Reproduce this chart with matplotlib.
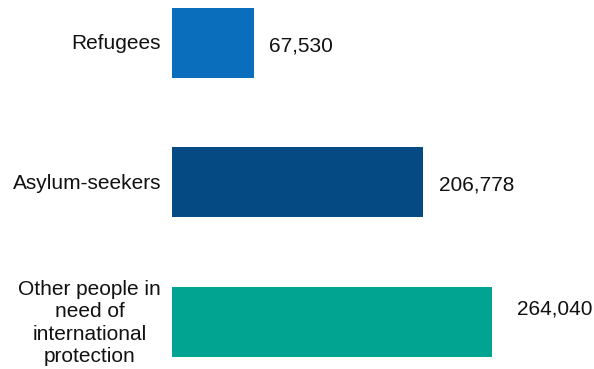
import matplotlib
matplotlib.use('Agg')
import matplotlib.pyplot as plt
from matplotlib.transforms import offset_copy

categories = ['Refugees', 'Asylum-seekers',
              'Other people in\nneed of\ninternational\nprotection']
values = [67530, 206778, 264040]
colors = ['#0A6EBD', '#064A84', '#00A491']

plt.rcParams['font.family'] = ['Liberation Sans', 'DejaVu Sans']

fig = plt.figure(figsize=(5.94, 3.69), dpi=100)
ax = fig.add_axes([172 / 594, 0, 422 / 594, 1])

pos = list(range(len(values)))
ax.barh(pos, values, height=0.502, color=colors)
ax.set_ylim(2.337, -0.308)
ax.set_xlim(0, 347760)
ax.axis('off')

# category labels, right-aligned to the left of the bars
for p, c in zip(pos, categories):
    tr = offset_copy(ax.transData, fig=fig, x=-11, y=-1, units='dots')
    ax.text(0, p, c, transform=tr, ha='right', va='center',
            multialignment='center', fontsize=15, linespacing=1.22,
            color='#111111', clip_on=False)

# value labels (small nudges as in the original)
nudge_x = [15, 16, 25]
nudge_y = [-3, -3, 13]
for p, v, dx, dy in zip(pos, values, nudge_x, nudge_y):
    tr = offset_copy(ax.transData, fig=fig, x=dx, y=dy, units='dots')
    ax.text(v, p, f'{v:,}', transform=tr, ha='left', va='center',
            fontsize=15, color='#111111', clip_on=False)

fig.savefig('out.png', dpi=100)
